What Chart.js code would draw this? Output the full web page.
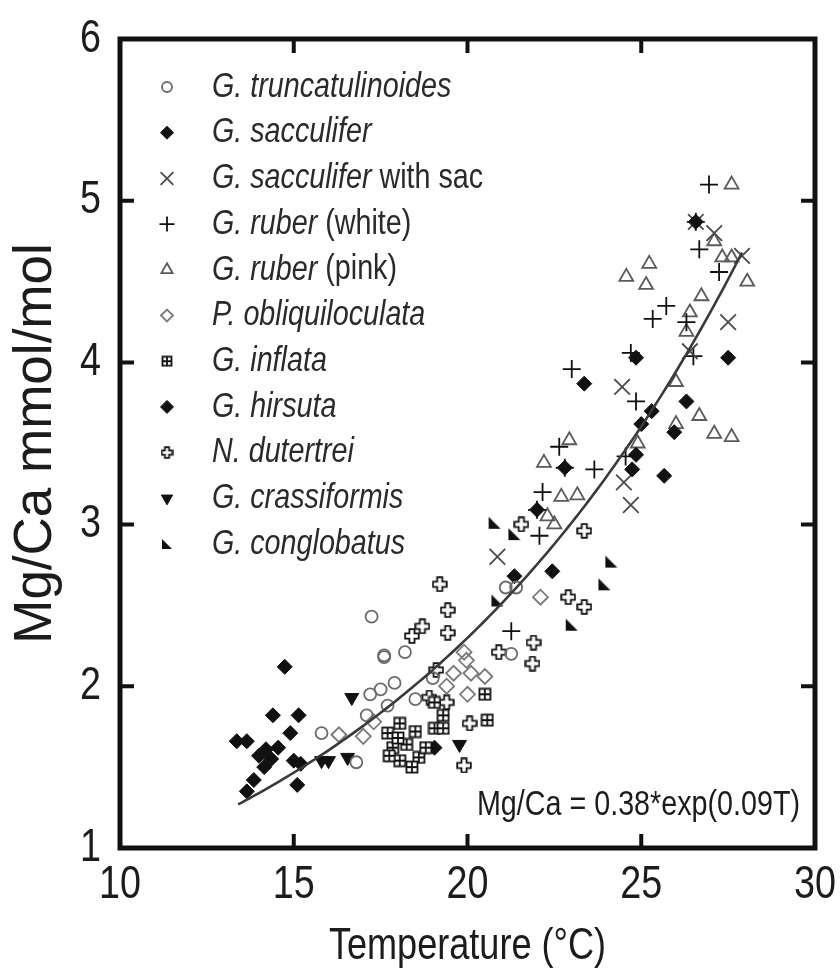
<!DOCTYPE html>
<html>
<head>
<meta charset="utf-8">
<script src="https://cdn.jsdelivr.net/npm/chart.js@4.4.0/dist/chart.umd.min.js"></script>
<style>
  html, body { margin: 0; padding: 0; background: #fff; }
</style>
</head>
<body>
<canvas id="c" width="840" height="975"></canvas>
<script>
// Foraminifera Mg/Ca against calcification temperature.
// Each point is [temperature (°C), Mg/Ca (mmol/mol)].
const truncatulinoides = [[17.24,2.43],[17.6,2.18],[17.2,1.95],[17.5,1.98],[17.9,2.02],[18.2,2.21],[17.6,2.19],[16.8,1.53],[15.8,1.71],[21.1,2.61],[21.4,2.61],[21.26,2.2],[17.1,1.82],[17.7,1.88],[18.5,1.92],[19.0,2.05]];
const sacculifer = [[21.35,2.68],[22.44,2.71],[23.36,3.87],[22.8,3.35],[22.0,3.09],[24.74,3.34],[24.85,3.43],[25.66,3.30],[25.3,3.70],[25.0,3.62],[25.95,3.57],[26.3,3.76],[27.5,4.03],[24.85,4.03],[26.57,4.87]];
const sacculiferSac = [[20.86,2.80],[24.45,3.85],[26.4,4.07],[27.5,4.25],[27.9,4.66],[24.5,3.26],[24.7,3.12],[26.57,4.87],[27.1,4.80]];
const ruberWhite = [[26.95,5.10],[26.57,4.87],[26.67,4.70],[27.24,4.56],[25.72,4.35],[25.33,4.27],[26.3,4.25],[24.7,4.06],[26.5,4.04],[23.0,3.96],[24.85,3.76],[22.64,3.48],[23.65,3.34],[22.8,3.35],[22.16,3.2],[22.0,3.09],[22.07,2.93],[21.26,2.34],[24.55,3.42]];
const ruberPink = [[27.6,5.10],[27.1,4.75],[27.33,4.65],[27.6,4.65],[28.05,4.50],[24.57,4.53],[25.23,4.61],[25.14,4.48],[26.73,4.41],[26.4,4.31],[26.3,4.19],[26.0,3.88],[26.67,3.67],[26.0,3.62],[27.1,3.56],[27.6,3.54],[22.93,3.52],[22.2,3.38],[22.7,3.17],[23.16,3.18],[22.3,3.05],[22.5,3.0],[24.9,3.5]];
const obliquiloculata = [[22.1,2.55],[19.9,2.21],[19.97,2.16],[19.6,2.08],[20.1,2.08],[20.5,2.06],[19.4,2.0],[20.0,1.95],[17.0,1.69],[17.3,1.78],[16.3,1.70]];
const inflata = [[20.5,1.95],[20.57,1.79],[18.05,1.77],[19.05,1.74],[19.3,1.74],[17.85,1.62],[18.05,1.54],[18.6,1.56],[18.4,1.5],[17.7,1.71],[18.25,1.64],[18.8,1.62],[19.05,1.9],[19.3,1.82],[18.0,1.68],[17.75,1.57],[18.5,1.72]];
const hirsuta = [[14.74,2.12],[14.4,1.82],[15.14,1.82],[14.9,1.71],[13.36,1.66],[13.65,1.66],[14.2,1.61],[14.0,1.57],[14.35,1.55],[15.0,1.54],[15.2,1.52],[15.1,1.39],[13.85,1.42],[13.65,1.35],[14.15,1.5],[19.05,1.62],[14.55,1.62]];
const dutertrei = [[19.2,2.63],[19.43,2.47],[19.43,2.33],[18.7,2.37],[18.4,2.31],[21.55,3.0],[22.9,2.55],[20.9,2.21],[21.9,2.27],[21.87,2.14],[19.1,2.1],[18.9,1.93],[19.4,1.9],[20.06,1.77],[19.9,1.51],[23.36,2.96],[23.36,2.49]];
const crassiformis = [[16.67,1.93],[15.8,1.54],[16.0,1.54],[16.55,1.56],[19.77,1.64]];
const conglobatus = [[20.78,3.01],[21.35,2.94],[20.86,2.53],[23.0,2.38],[24.14,2.77],[23.94,2.63]];

// Axis ticks
const xTicks = [10, 15, 20, 25, 30];
const yTicks = [1, 2, 3, 4, 5, 6];

// Exponential fit: Mg/Ca = A * exp(B * T), drawn over the sampled temperature range
const fitA = 0.38;
const fitB = 0.09;
const fitRange = [13.4, 27.9];

const FONT = '"Liberation Sans", Arial, sans-serif';
const SQUEEZE = 0.82;          // horizontal compression applied to the horizontal text
const INK = '#1c1c1c';

// ---- custom marker images ----
function marker(size, draw) {
  const c = document.createElement('canvas');
  c.width = size; c.height = size;
  const g = c.getContext('2d');
  draw(g, size);
  return c;
}
function gridSquare(s) {            // square with a cross inside
  return marker(s, (g, n) => {
    const m = 1.5, e = n - 1.5;
    g.strokeStyle = '#111'; g.lineWidth = 1.8;
    g.fillStyle = '#fff';
    g.fillRect(m, m, e - m, e - m);
    g.strokeRect(m, m, e - m, e - m);
    g.beginPath();
    g.moveTo(n / 2, m); g.lineTo(n / 2, e);
    g.moveTo(m, n / 2); g.lineTo(e, n / 2);
    g.stroke();
  });
}
function openCross(s) {             // outlined plus shape
  return marker(s, (g, n) => {
    const m = 1.2, e = n - 1.2, a = n * 0.34, b = n * 0.66;
    g.beginPath();
    g.moveTo(a, m); g.lineTo(b, m); g.lineTo(b, a); g.lineTo(e, a); g.lineTo(e, b);
    g.lineTo(b, b); g.lineTo(b, e); g.lineTo(a, e); g.lineTo(a, b); g.lineTo(m, b);
    g.lineTo(m, a); g.lineTo(a, a); g.closePath();
    g.fillStyle = '#fff'; g.fill();
    g.strokeStyle = '#111'; g.lineWidth = 1.8; g.stroke();
  });
}
function cornerTriangle(s) {        // filled right triangle, right angle bottom-left
  return marker(s, (g, n) => {
    g.beginPath();
    g.moveTo(1, 1); g.lineTo(n - 1, n - 1); g.lineTo(1, n - 1); g.closePath();
    g.fillStyle = '#111'; g.fill();
  });
}

const styles = {
  truncatulinoides: { pointStyle: 'circle', radius: 6, lr: 5, border: '#6a6a6a', fill: 'rgba(0,0,0,0)', bw: 1.8 },
  sacculifer:       { pointStyle: 'rectRot', radius: 7.5, lr: 6.5, border: '#111', fill: '#111', bw: 1 },
  sacculiferSac:    { pointStyle: 'crossRot', radius: 11, lr: 9, border: '#4a4a4a', fill: '#4a4a4a', bw: 1.8 },
  ruberWhite:       { pointStyle: 'cross', radius: 9, lr: 7.5, border: '#111', fill: '#111', bw: 1.8 },
  ruberPink:        { pointStyle: 'triangle', radius: 8, lr: 6.5, border: '#5a5a5a', fill: 'rgba(0,0,0,0)', bw: 1.8 },
  obliquiloculata:  { pointStyle: 'rectRot', radius: 7.5, lr: 6, border: '#7a7a7a', fill: 'rgba(0,0,0,0)', bw: 1.8 },
  inflata:          { pointStyle: gridSquare(14), legendStyle: gridSquare(12), radius: 7, border: '#111', fill: '#fff', bw: 1 },
  hirsuta:          { pointStyle: 'rectRot', radius: 7.5, lr: 6.5, border: '#111', fill: '#111', bw: 1 },
  dutertrei:        { pointStyle: openCross(16), legendStyle: openCross(13), radius: 8, border: '#111', fill: '#fff', bw: 1 },
  crassiformis:     { pointStyle: 'triangle', rotation: 180, radius: 8, lr: 6.5, border: '#111', fill: '#111', bw: 1 },
  conglobatus:      { pointStyle: cornerTriangle(14), legendStyle: cornerTriangle(12), radius: 7, border: '#111', fill: '#111', bw: 1 }
};

const seriesList = [
  { key: 'truncatulinoides', data: truncatulinoides, label: [['G. truncatulinoides', true]] },
  { key: 'sacculifer', data: sacculifer, label: [['G. sacculifer', true]] },
  { key: 'sacculiferSac', data: sacculiferSac, label: [['G. sacculifer', true], [' with sac', false]] },
  { key: 'ruberWhite', data: ruberWhite, label: [['G. ruber', true], [' (white)', false]] },
  { key: 'ruberPink', data: ruberPink, label: [['G. ruber', true], [' (pink)', false]] },
  { key: 'obliquiloculata', data: obliquiloculata, label: [['P. obliquiloculata', true]] },
  { key: 'inflata', data: inflata, label: [['G. inflata', true]] },
  { key: 'hirsuta', data: hirsuta, label: [['G. hirsuta', true]] },
  { key: 'dutertrei', data: dutertrei, label: [['N. dutertrei', true]] },
  { key: 'crassiformis', data: crassiformis, label: [['G. crassiformis', true]] },
  { key: 'conglobatus', data: conglobatus, label: [['G. conglobatus', true]] }
];

// Fitted curve sampled from the stated equation
const fitCurve = [];
for (let t = fitRange[0]; t <= fitRange[1] + 1e-9; t += 0.1) {
  fitCurve.push({ x: t, y: fitA * Math.exp(fitB * t) });
}
const equationText = `Mg/Ca = ${fitA}*exp(${fitB}T)`;

const datasets = [{
  label: 'fit',
  data: fitCurve,
  showLine: true,
  borderColor: '#3a3a3a',
  borderWidth: 2.6,
  pointRadius: 0,
  tension: 0,
  fill: false
}];
seriesList.forEach(s => {
  const st = styles[s.key];
  datasets.push({
    label: s.key,
    data: s.data.map(p => ({ x: p[0], y: p[1] })),
    showLine: false,
    pointStyle: st.pointStyle,
    pointRadius: st.radius,
    pointRotation: st.rotation || 0,
    pointBorderColor: st.border,
    pointBackgroundColor: st.fill,
    pointBorderWidth: st.bw
  });
});

// Condensed text: draws txt with its left/centre/right anchor at (x, y)
function squeezedText(ctx, txt, x, y, font, align) {
  ctx.save();
  ctx.font = font;
  ctx.textAlign = align;
  ctx.textBaseline = 'middle';
  ctx.translate(x, y);
  ctx.scale(SQUEEZE, 1);
  ctx.fillText(txt, 0, 0);
  ctx.restore();
}

// Frame, inward tick marks, tick labels, x title and the fit equation
const framePlugin = {
  id: 'frame',
  afterDatasetsDraw(chart) {
    const { ctx, chartArea: a, scales: { x, y } } = chart;
    ctx.save();
    ctx.strokeStyle = '#111';
    ctx.lineWidth = 5;
    ctx.strokeRect(a.left, a.top, a.right - a.left, a.bottom - a.top);
    const L = 14;
    ctx.lineWidth = 4;
    ctx.beginPath();
    xTicks.forEach(v => {
      if (v === x.min || v === x.max) return;
      const px = x.getPixelForValue(v);
      ctx.moveTo(px, a.bottom); ctx.lineTo(px, a.bottom - L);
      ctx.moveTo(px, a.top); ctx.lineTo(px, a.top + L);
    });
    yTicks.forEach(v => {
      if (v === y.min || v === y.max) return;
      const py = y.getPixelForValue(v);
      ctx.moveTo(a.left, py); ctx.lineTo(a.left + L, py);
      ctx.moveTo(a.right, py); ctx.lineTo(a.right - L, py);
    });
    ctx.stroke();

    ctx.fillStyle = INK;
    const tickFont = `46px ${FONT}`;
    xTicks.forEach(v => squeezedText(ctx, String(v), x.getPixelForValue(v), a.bottom + 37, tickFont, 'center'));
    yTicks.forEach(v => squeezedText(ctx, String(v), a.left - 19, y.getPixelForValue(v), tickFont, 'right'));
    squeezedText(ctx, 'Temperature (\u00B0C)', (a.left + a.right) / 2, a.bottom + 99, `44px ${FONT}`, 'center');
    squeezedText(ctx, equationText, a.right - 15, a.bottom - 43, `35px ${FONT}`, 'right');
    ctx.restore();
  }
};

// Species key in the upper-left corner of the plot
const keyPlugin = {
  id: 'speciesKey',
  afterDatasetsDraw(chart) {
    const { ctx, chartArea: a } = chart;
    const mx = a.left + 47, tx = a.left + 92;
    const y0 = a.top + 48, step = 45.7;
    ctx.save();
    seriesList.forEach((s, i) => {
      const st = styles[s.key];
      const yy = y0 + i * step;
      if (typeof st.pointStyle === 'string') {
        ctx.strokeStyle = st.border;
        ctx.fillStyle = st.fill;
        ctx.lineWidth = st.bw;
        Chart.helpers.drawPoint(ctx, {
          pointStyle: st.pointStyle, radius: st.lr, rotation: st.rotation || 0, borderWidth: st.bw
        }, mx, yy);
      } else {
        const img = st.legendStyle;
        ctx.drawImage(img, mx - img.width / 2, yy - img.height / 2);
      }
      let cx = tx;
      ctx.fillStyle = '#2a2a2a';
      s.label.forEach(([txt, it]) => {
        const f = `${it ? 'italic ' : ''}35px ${FONT}`;
        squeezedText(ctx, txt, cx, yy, f, 'left');
        ctx.font = f;
        cx += ctx.measureText(txt).width * SQUEEZE;
      });
    });
    ctx.restore();
  }
};

new Chart(document.getElementById('c').getContext('2d'), {
  type: 'scatter',
  data: { datasets },
  options: {
    responsive: false,
    animation: false,
    events: [],
    layout: { padding: { top: 39, right: 25, left: 0, bottom: 0 } },
    plugins: { legend: { display: false }, tooltip: { enabled: false } },
    scales: {
      x: {
        type: 'linear', position: 'bottom', min: 10, max: 30,
        afterFit(s) { s.height = 127; s.paddingLeft = 0; s.paddingRight = 0; },
        afterBuildTicks(s) { s.ticks = xTicks.map(v => ({ value: v })); },
        grid: { display: false, drawTicks: false },
        border: { display: false },
        ticks: { display: false }
      },
      y: {
        type: 'linear', position: 'left', min: 1, max: 6,
        afterFit(s) { s.width = 120; s.paddingTop = 0; s.paddingBottom = 0; },
        afterBuildTicks(s) { s.ticks = yTicks.map(v => ({ value: v })); },
        grid: { display: false, drawTicks: false },
        border: { display: false },
        ticks: { display: false },
        title: { display: true, text: 'Mg/Ca mmol/mol', font: { family: FONT, size: 53 }, color: INK, padding: { top: 5, bottom: 0 } }
      }
    }
  },
  plugins: [framePlugin, keyPlugin]
});
</script>
</body>
</html>
